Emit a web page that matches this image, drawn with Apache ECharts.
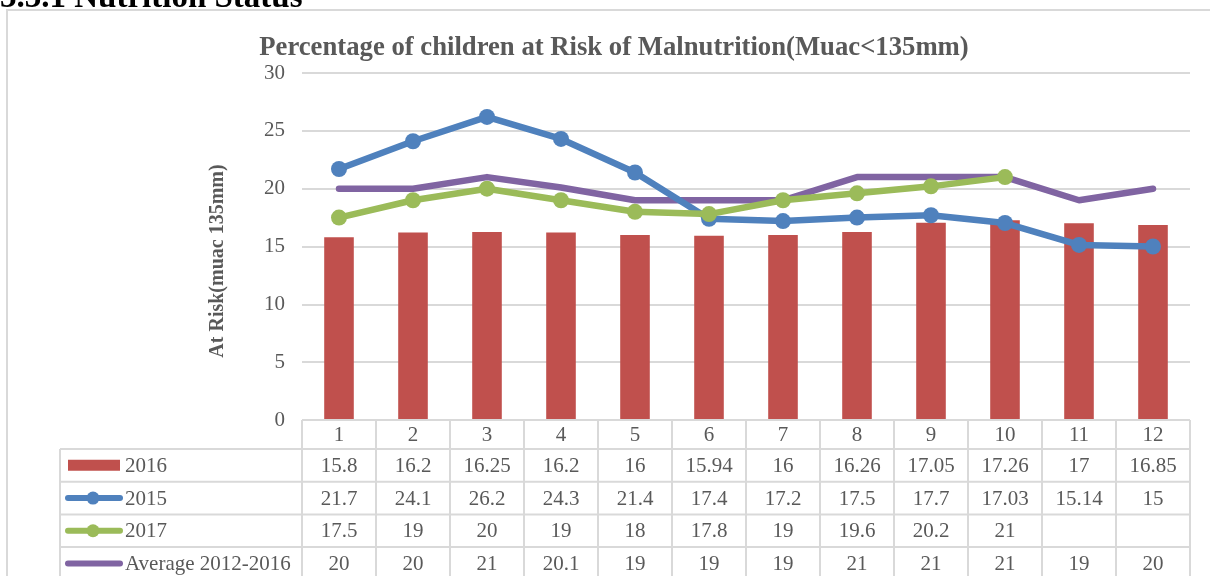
<!DOCTYPE html>
<html><head><meta charset="utf-8">
<script src="https://cdn.jsdelivr.net/npm/echarts@6/dist/echarts.min.js"></script>
<style>html,body{margin:0;padding:0;background:#fff}#c{width:1210px;height:576px}</style>
</head><body><div id="c"></div>
<script>
var categories = ['1','2','3','4','5','6','7','8','9','10','11','12'];
var s2016 = [15.8,16.2,16.25,16.2,16,15.94,16,16.26,17.05,17.26,17,16.85];
var s2015 = [21.7,24.1,26.2,24.3,21.4,17.4,17.2,17.5,17.7,17.03,15.14,15];
var s2017 = [17.5,19,20,19,18,17.8,19,19.6,20.2,21,null,null];
var sAvg = [20,20,21,20.1,19,19,19,21,21,21,19,20];
var yTicks = [0,5,10,15,20,25,30];
var titleText = 'Percentage of children at Risk of Malnutrition(Muac<135mm)';
var headingText = '3.3.1 Nutrition Status';
var yName = 'At Risk(muac 135mm)';
var names = ['2016','2015','2017','Average 2012-2016'];

var FONT = '"Liberation Serif","Times New Roman",serif';
var TXT = '#595959';
var GRIDC = '#d9d9d9';
var COL = {bar:'#c0504d', b:'#4f81bd', g:'#9bbb59', p:'#8064a2'};

var chart = echarts.init(document.getElementById('c'));
var option = {
  animation:false,
  grid:{left:302,right:20,top:73,bottom:156},
  xAxis:{type:'category',data:categories,axisLine:{show:false},axisTick:{show:false},axisLabel:{show:false}},
  yAxis:{type:'value',min:yTicks[0],max:yTicks[yTicks.length-1],interval:5,
    axisLabel:{fontFamily:FONT,fontSize:21,color:TXT,margin:17},
    axisLine:{show:false},axisTick:{show:false},
    splitLine:{lineStyle:{color:GRIDC,width:2}}},
  series:[
    {name:names[0],type:'bar',data:s2016,barWidth:'40%',itemStyle:{color:COL.bar},z:2},
    {name:names[3],type:'line',data:sAvg,symbol:'none',itemStyle:{color:COL.p},lineStyle:{color:COL.p,width:6.5,cap:'round',join:'round'},z:3},
    {name:names[1],type:'line',data:s2015,symbol:'circle',symbolSize:16,itemStyle:{color:COL.b},lineStyle:{color:COL.b,width:6.5,cap:'round',join:'round'},z:4},
    {name:names[2],type:'line',data:s2017,symbol:'circle',symbolSize:16,itemStyle:{color:COL.g},lineStyle:{color:COL.g,width:6.5,cap:'round',join:'round'},z:5}
  ]
};
chart.setOption(option);

// build the data table from the axis scale
var centers = categories.map(function(c,i){return chart.convertToPixel({xAxisIndex:0},i);});
var step = centers[1]-centers[0];
var edges = [centers[0]-step/2];
centers.forEach(function(c){edges.push(c+step/2);});
var y0 = chart.convertToPixel({yAxisIndex:0},0);
var rowTop = [y0, y0+29];
var rh = 32.7;
for (var r=1;r<=4;r++) rowTop.push(rowTop[1]+rh*r);
var leftX = 60;
var g = [];
var LS = {stroke:GRIDC,lineWidth:2};
// frame, heading, title, axis name
g.push({type:'rect',shape:{x:7,y:10,width:1220,height:600},style:{fill:null,stroke:'#d9d9d9',lineWidth:2},z:0});
g.push({type:'text',x:0,y:15,style:{text:headingText,font:'bold 33px '+FONT,fill:'#000',textVerticalAlign:'bottom'},z:10});
g.push({type:'text',x:614,y:48,style:{text:titleText,font:'bold 26.7px '+FONT,fill:TXT,textAlign:'center',textVerticalAlign:'middle'},z:10});
g.push({type:'text',x:218,y:261,rotation:Math.PI/2,style:{text:yName,font:'bold 20px '+FONT,fill:TXT,textAlign:'center',textVerticalAlign:'middle'},z:10});
// horizontal lines
g.push({type:'line',shape:{x1:edges[0],y1:rowTop[0],x2:edges[12],y2:rowTop[0]},style:LS,z:10});
for (var k=1;k<rowTop.length;k++) g.push({type:'line',shape:{x1:leftX,y1:rowTop[k],x2:edges[12],y2:rowTop[k]},style:LS,z:10});
// vertical lines
edges.forEach(function(e){g.push({type:'line',shape:{x1:e,y1:rowTop[0],x2:e,y2:rowTop[5]+10},style:LS,z:10});});
g.push({type:'line',shape:{x1:leftX,y1:rowTop[1],x2:leftX,y2:rowTop[5]+10},style:LS,z:10});
function cellText(x,y,t,align){return {type:'text',x:x,y:y,style:{text:t,font:'21px '+FONT,fill:TXT,textAlign:align||'center',textVerticalAlign:'middle'},z:11};}
categories.forEach(function(c,i){g.push(cellText(centers[i],(rowTop[0]+rowTop[1])/2+1,c));});
var rows = [s2016,s2015,s2017,sAvg];
rows.forEach(function(arr,ri){
  var yc = (rowTop[ri+1]+rowTop[ri+2])/2+1;
  arr.forEach(function(v,i){ if(v!==null) g.push(cellText(centers[i],yc,String(v))); });
  g.push(cellText(125,yc,names[ri],'left'));
});
// legend keys
var yk = function(ri){return (rowTop[ri+1]+rowTop[ri+2])/2;};
g.push({type:'rect',shape:{x:68,y:yk(0)-5.5,width:52,height:11},style:{fill:COL.bar},z:11});
[[1,COL.b,true],[2,COL.g,true],[3,COL.p,false]].forEach(function(d){
  var y=yk(d[0]);
  g.push({type:'line',shape:{x1:68,y1:y,x2:120,y2:y},style:{stroke:d[1],lineWidth:6,lineCap:'round'},z:11});
  if(d[2]) g.push({type:'circle',shape:{cx:93,cy:y,r:6.5},style:{fill:d[1]},z:12});
});
chart.setOption({graphic:g});
</script></body></html>
